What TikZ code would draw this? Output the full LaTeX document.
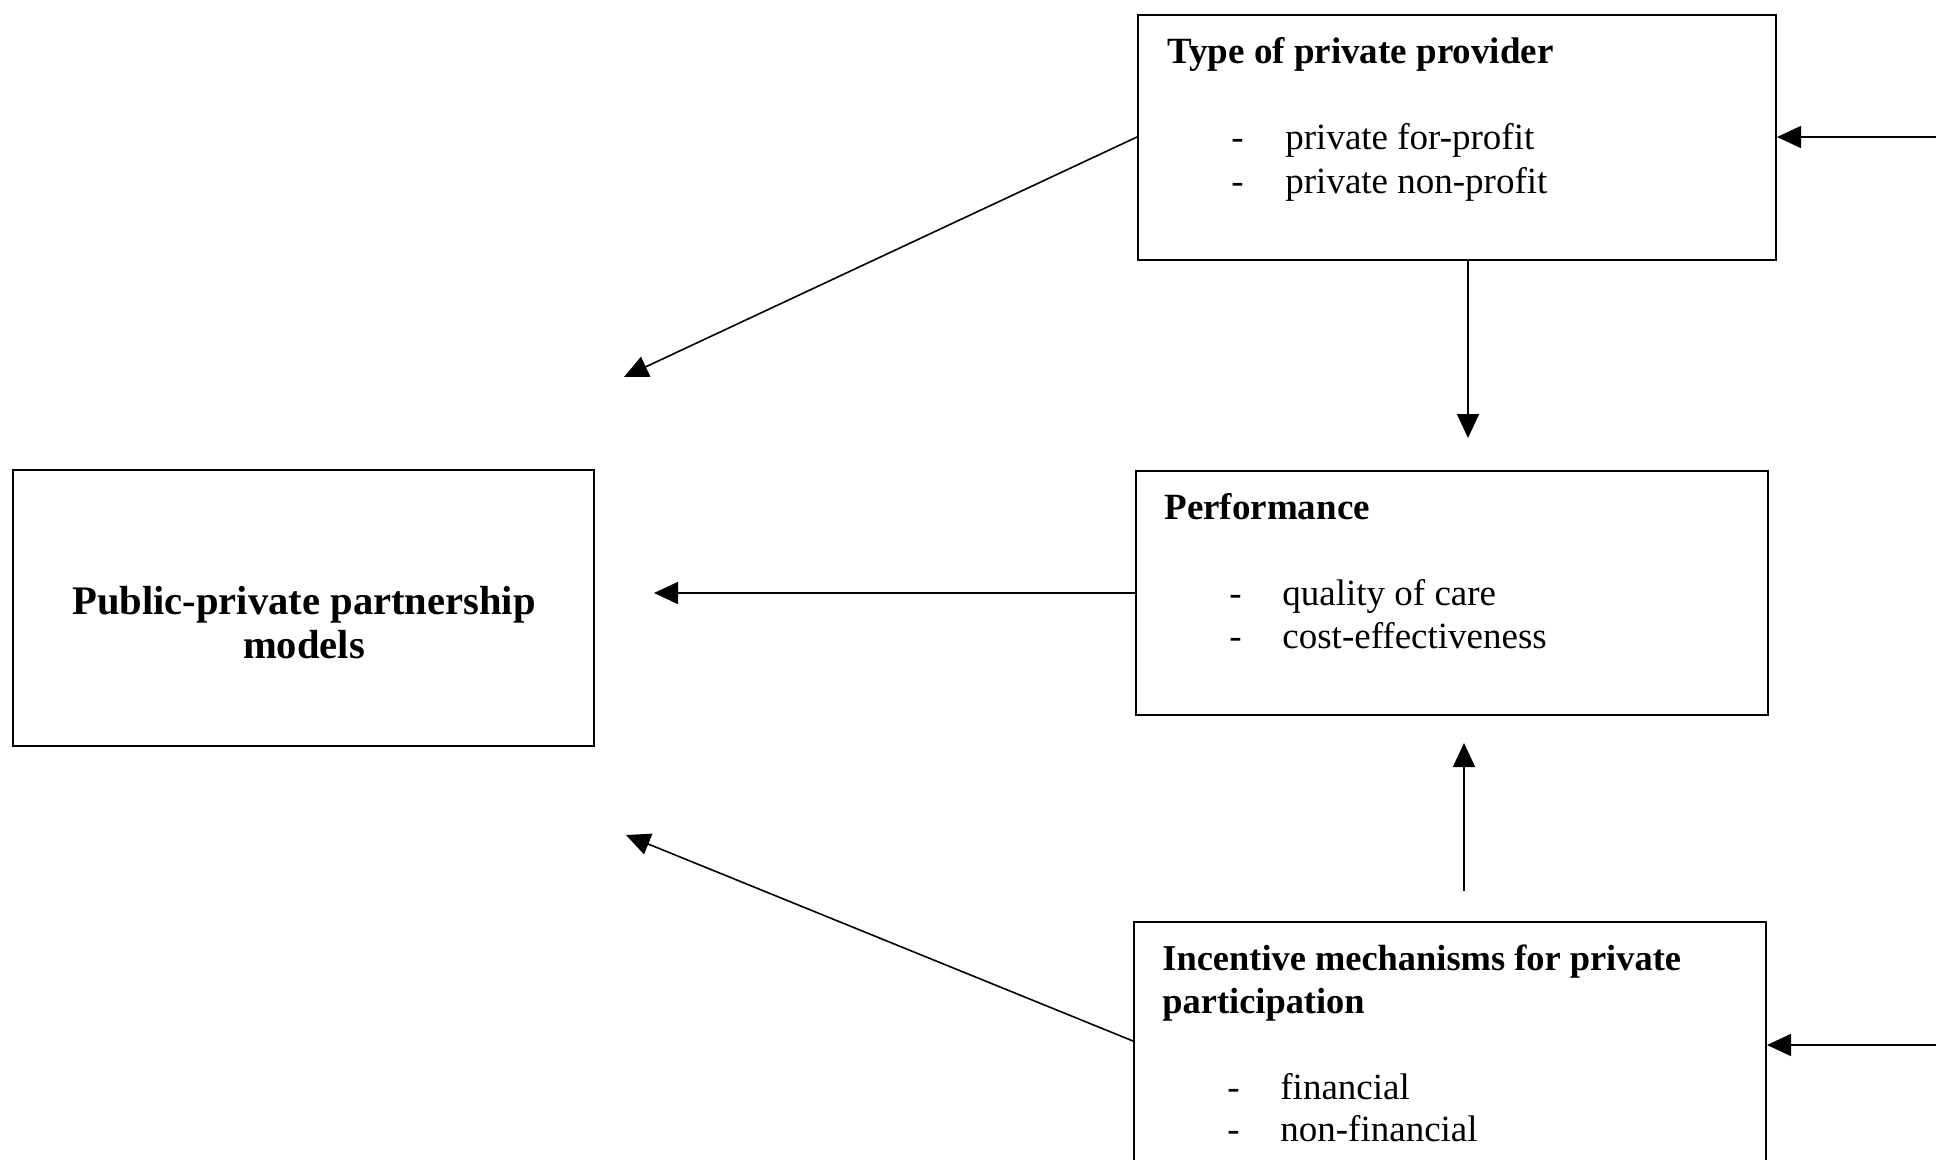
\documentclass[tikz,border=0pt]{standalone}
\usepackage{fontspec}
\setmainfont{Liberation Serif}
\usetikzlibrary{arrows.meta}
\begin{document}
\begin{tikzpicture}[x=0.5pt,y=-0.5pt,
  box/.style={draw,line width=1pt,inner sep=0,anchor=north west},
  txt/.style={anchor=base west,inner sep=0,font=\fontsize{18.5}{22}\selectfont},
  ttl/.style={txt,font=\fontsize{18.5}{22}\selectfont\bfseries},
  conn/.style={line width=0.8pt,-{Triangle[length=12pt,width=11pt]}}]
\useasboundingbox (0,0) rectangle (1936,1160);
\clip (0,0) rectangle (1936,1160);
% boxes
\node[box,minimum width=319pt,minimum height=122.5pt] (type) at (1137,14) {};
\node[box,minimum width=316pt,minimum height=122pt] (perf) at (1135,470) {};
\node[box,minimum width=290.5pt,minimum height=138pt] (ppp) at (12,469) {};
\node[box,minimum width=316pt,minimum height=160pt] (inc) at (1133,921) {};
% texts
\node[ttl] (t1) at (1167,64) {Type of private provider};
\node[txt] (t1a) at (1231,150) {-};
\node[txt] (t1b) at (1285,150) {private for-profit};
\node[txt] (t1c) at (1231,194) {-};
\node[txt] (t1d) at (1285,194) {private non-profit};
\node[ttl] (t2) at (1164,519) {Performance};
\node[txt] (t2a) at (1229,605) {-};
\node[txt] (t2b) at (1282,605) {quality of care};
\node[txt] (t2c) at (1229,648) {-};
\node[txt] (t2d) at (1282,648) {cost-effectiveness};
\node[inner sep=0,align=center,font=\fontsize{20.3}{22}\selectfont\bfseries] (t3) at (304,623) {Public-private partnership\\models};
\node[ttl,font=\fontsize{18.2}{22}\selectfont\bfseries] (t4) at (1162,970) {Incentive mechanisms for private};
\node[ttl,font=\fontsize{18.2}{22}\selectfont\bfseries] (t4b) at (1162,1013) {participation};
\node[txt] (t4c) at (1227,1099) {-};
\node[txt] (t4d) at (1280,1099) {financial};
\node[txt] (t4e) at (1227,1141) {-};
\node[txt] (t4f) at (1280,1141) {non-financial};
% connector endpoints
\coordinate (e1) at (1936,137);
\coordinate (e2) at (1936,1045);
\coordinate (a1) at (624,377);
\coordinate (a2) at (654,593);
\coordinate (a3) at (626,835);
\coordinate (d1) at (1468,438);
\coordinate (u1s) at (1464,891);
\coordinate (u1) at (1464,743);
% connectors
\draw[conn] (e1) -- (type.east |- e1);
\draw[conn] (e2) -- (inc.east |- e2);
\draw[conn] (type.west |- e1) -- (a1);
\draw[conn] (perf.west |- a2) -- (a2);
\draw[conn] (inc.west |- 0,1041) -- (a3);
\draw[conn] (type.south -| d1) -- (d1);
\draw[conn] (u1s) -- (u1);
\end{tikzpicture}
\end{document}
